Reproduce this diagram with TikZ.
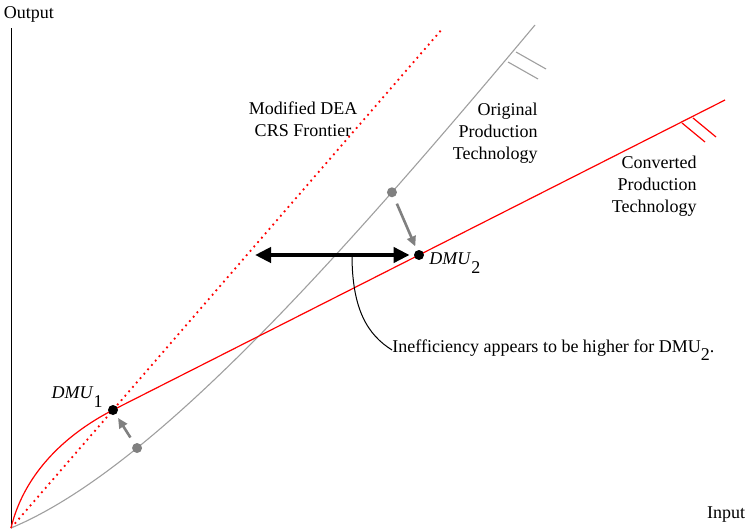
\documentclass[tikz,border=0pt]{standalone}
\usepackage{fontspec}
\setmainfont{Liberation Serif}
\usetikzlibrary{arrows.meta}
\newcommand\dmu[1]{\textit{DMU}\raisebox{-1.1ex}{#1}}
\tikzset{
  orig/.style={gray!75, line width=0.55pt},
  conv/.style={red, line width=0.6pt},
  pnt/.style={circle, inner sep=0pt, minimum size=5pt},
  move/.style={-{Triangle[length=5pt, width=4.5pt]}, black!50, line width=1.3pt, shorten <=3.5pt, shorten >=2pt},
  bigarrow/.style={{Triangle[length=8pt, width=7.5pt]}-{Triangle[length=8pt, width=7.5pt]}, line width=2pt}
}

\begin{document}
\begin{tikzpicture}[x=0.5pt, y=-0.5pt, font=\fontsize{9}{11}\selectfont, every node/.style={inner sep=0pt}]
    \useasboundingbox (0,0) rectangle (747,529);
    \coordinate (O) at (11,528);
    \draw[line width=0.45pt] (O) -- (11,28);
    \node (outlbl) at (29,14) {Output};
    \node (inlbl) at (726,515) {Input};
    \draw[red, dotted, line width=0.9pt] (O) -- (443,28);
    \draw[orig] (O) .. controls (150,470) and (330,270) .. (535,25)
      coordinate[pos=0.28] (g1) coordinate[pos=0.76] (g2);
    \draw[conv] (O) .. controls (25,470) and (70,432) .. (113,410) coordinate (dmu1)
      -- (725,100) coordinate[pos=0.5] (dmu2);
    \foreach \p in {(516,52),(508,62)}{
      \draw[orig] \p -- ++(30,17);
    }
    \foreach \p in {(693,118),(682,123)}{
      \draw[conv] \p -- ++(23,19);
    }
    \node[align=center] (crslbl) at (303,119) {Modified DEA\\CRS Frontier};
    \node[align=right, anchor=east] (origlbl) at (538,133) {Original\\Production\\Technology};
    \node[align=right, anchor=east] (convlbl) at (697,186) {Converted\\Production\\Technology};
    \node[pnt, fill=black!50] (p1) at (g1) {};
    \node[pnt, fill=black!50] (p2) at (g2) {};
    \node[pnt, fill=black] (d1) at (dmu1) {};
    \node[pnt, fill=black] (d2) at (dmu2) {};
    \draw[move] (p1) -- (d1);
    \draw[move] (p2) -- (d2);
    \draw[bigarrow, shorten <=2pt] (d2) -- (255,0 |- d2);
    \path (d1) ++(-10,-12) node[anchor=base east] (d1lbl) {\dmu{1}};
    \path (d2) ++(10,9) node[anchor=base west] (d2lbl) {\dmu{2}};
    \node[anchor=west] (ineff) at (392,350) {Inefficiency appears to be higher for DMU\raisebox{-1ex}{2}.};
    \draw[line width=0.5pt] (352,0 |- d2) .. controls (352,310) and (368,335) .. (ineff.west);
  \end{tikzpicture}
\end{document}
